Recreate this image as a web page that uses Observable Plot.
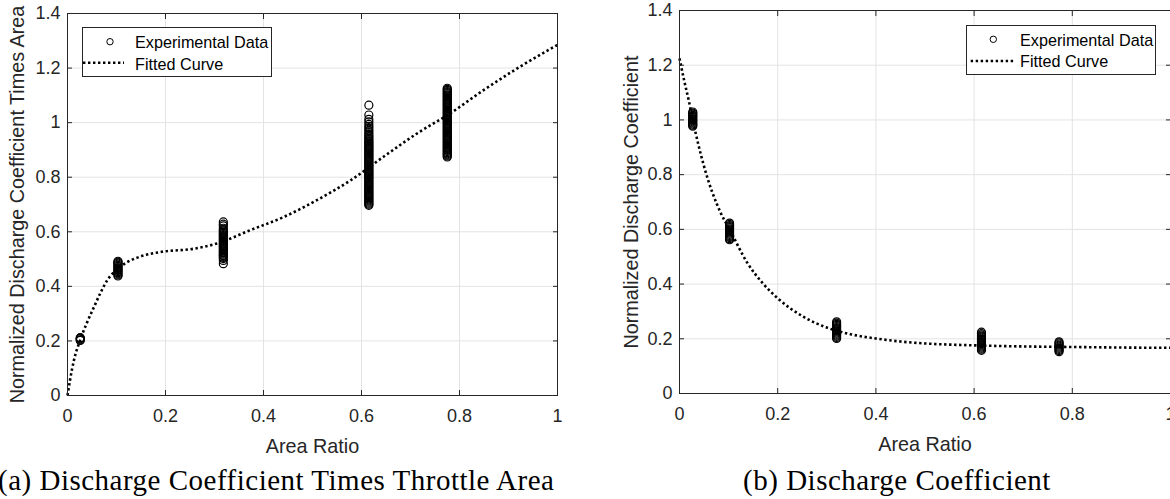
<!DOCTYPE html>
<html>
<head>
<meta charset="utf-8">
<script src="https://cdn.jsdelivr.net/npm/d3@7"></script>
<script src="https://cdn.jsdelivr.net/npm/@observablehq/plot@0.6"></script>
<style>
  html, body { margin: 0; padding: 0; background: #fff; width: 1170px; height: 499px; overflow: hidden; }
  #wrap { position: relative; width: 1170px; height: 499px; }
  #wrap > * { position: absolute; top: 0; }
</style>
</head>
<body>
<div id="wrap"></div>
<script>
// ---------- data ----------
const xTicks = [0, 0.2, 0.4, 0.6, 0.8, 1];
const xTickLabels = ["0", "0.2", "0.4", "0.6", "0.8", "1"];
const yTicks = [0, 0.2, 0.4, 0.6, 0.8, 1, 1.2, 1.4];
const yTickLabels = ["0", "0.2", "0.4", "0.6", "0.8", "1", "1.2", "1.4"];

// (a) experimental data: area ratio of each test group and its normalized Cd*A readings
const expXA = [0.026, 0.103, 0.318, 0.615, 0.775];
const expYA = [
  [0.202, 0.204, 0.208, 0.210, 0.212],
  [0.438, 0.442, 0.446, 0.450, 0.454, 0.458, 0.461, 0.465, 0.469, 0.473, 0.477, 0.481, 0.485, 0.489, 0.492],
  [0.483, 0.495, 0.502, 0.506, 0.510, 0.514, 0.518, 0.522, 0.526, 0.530, 0.534, 0.538, 0.542, 0.546, 0.550, 0.554, 0.558, 0.562, 0.566, 0.570, 0.574, 0.578, 0.582, 0.586, 0.590, 0.594, 0.598, 0.603, 0.607, 0.613, 0.622, 0.628, 0.636],
  [0.697, 0.701, 0.705, 0.709, 0.713, 0.717, 0.721, 0.725, 0.729, 0.733, 0.737, 0.741, 0.745, 0.749, 0.753, 0.757, 0.761, 0.765, 0.769, 0.773, 0.777, 0.781, 0.785, 0.789, 0.793, 0.797, 0.801, 0.805, 0.809, 0.813, 0.817, 0.821, 0.825, 0.829, 0.833, 0.837, 0.841, 0.845, 0.849, 0.853, 0.857, 0.861, 0.865, 0.869, 0.873, 0.877, 0.881, 0.885, 0.889, 0.893, 0.897, 0.901, 0.905, 0.909, 0.913, 0.917, 0.921, 0.925, 0.929, 0.933, 0.938, 0.943, 0.948, 0.953, 0.959, 0.966, 0.972, 0.979, 0.986, 0.994, 1.003, 1.012, 1.028, 1.064],
  [0.874, 0.878, 0.882, 0.886, 0.890, 0.894, 0.898, 0.902, 0.906, 0.910, 0.914, 0.918, 0.922, 0.926, 0.930, 0.934, 0.938, 0.942, 0.946, 0.950, 0.954, 0.958, 0.962, 0.966, 0.970, 0.974, 0.978, 0.982, 0.986, 0.990, 0.994, 0.998, 1.002, 1.006, 1.010, 1.014, 1.018, 1.022, 1.026, 1.030, 1.034, 1.038, 1.042, 1.046, 1.050, 1.054, 1.058, 1.062, 1.066, 1.070, 1.074, 1.078, 1.082, 1.086, 1.090, 1.094, 1.098, 1.102, 1.106, 1.110, 1.114, 1.118, 1.122, 1.126]
];
// (a) fitted curve
const fitXA = [0, 0.005, 0.013, 0.026, 0.04, 0.054, 0.067, 0.081, 0.103, 0.122, 0.15, 0.19, 0.258, 0.305, 0.373, 0.441, 0.509, 0.578, 0.645, 0.713, 0.781, 0.849, 0.918, 1.0];
const fitYA = [0, 0.055, 0.128, 0.204, 0.268, 0.324, 0.375, 0.422, 0.465, 0.489, 0.51, 0.526, 0.538, 0.557, 0.606, 0.654, 0.716, 0.789, 0.875, 0.96, 1.034, 1.119, 1.199, 1.285];

// (b) experimental data: normalized Cd
const expXB = [0.027, 0.102, 0.320, 0.615, 0.773];
const expYB = [
  [0.977, 0.981, 0.985, 0.989, 0.993, 0.997, 1.001, 1.005, 1.009, 1.013, 1.017, 1.021, 1.025, 1.029],
  [0.562, 0.566, 0.570, 0.574, 0.578, 0.582, 0.586, 0.590, 0.594, 0.598, 0.602, 0.606, 0.610, 0.614, 0.618, 0.623],
  [0.201, 0.205, 0.209, 0.213, 0.217, 0.221, 0.225, 0.229, 0.233, 0.237, 0.241, 0.245, 0.249, 0.253, 0.257, 0.262],
  [0.158, 0.162, 0.166, 0.170, 0.174, 0.178, 0.182, 0.186, 0.190, 0.194, 0.198, 0.202, 0.206, 0.210, 0.214, 0.219, 0.224],
  [0.153, 0.157, 0.161, 0.165, 0.169, 0.173, 0.177, 0.181, 0.185, 0.189]
];
// (b) fitted curve
const fitXB = [0, 0.01, 0.019, 0.027, 0.05, 0.084, 0.102, 0.138, 0.17, 0.2, 0.253, 0.3, 0.35, 0.4, 0.45, 0.5, 0.6, 0.7, 0.8, 0.9, 1.0];
const fitYB = [1.225, 1.14, 1.07, 1.0, 0.83, 0.66, 0.6, 0.478, 0.402, 0.348, 0.28, 0.241, 0.216, 0.201, 0.19, 0.183, 0.176, 0.172, 0.17, 0.168, 0.167];

const xLabel = "Area Ratio";
const yLabelA = "Normalized Discharge Coefficient Times Area";
const yLabelB = "Normalized Discharge Coefficient";
const legendLabels = ["Experimental Data", "Fitted Curve"];
const captionA = "(a) Discharge Coefficient Times Throttle Area";
const captionB = "(b) Discharge Coefficient";

// ---------- build ----------
const toPoints = (xs, ys) => xs.flatMap((x, i) => ys[i].map(y => ({x, y})));
const toLine = (xs, ys) => xs.map((x, i) => ({x, y: ys[i]}));

const AX = "#262626";
const GRID = "#e3e3e3";
const DASH = "2.4 2.6";
const fmtX = d => xTickLabels[xTicks.indexOf(d)];
const fmtY = d => yTickLabels[yTicks.indexOf(d)];

function chart({points, fit, yLabel, width, height, mL, mR, mT, mB, yLabelOffset, xLabelOffset}) {
  return Plot.plot({
    width, height,
    marginLeft: mL, marginRight: mR, marginTop: mT, marginBottom: mB,
    x: {domain: [0, 1]},
    y: {domain: [0, 1.4]},
    style: {fontFamily: "'Liberation Sans', Arial, sans-serif", fontSize: "18px", color: AX, background: "transparent", overflow: "visible"},
    marks: [
      Plot.gridX({ticks: xTicks, stroke: GRID, strokeOpacity: 1, strokeWidth: 1}),
      Plot.gridY({ticks: yTicks, stroke: GRID, strokeOpacity: 1, strokeWidth: 1}),
      Plot.line(fit, {x: "x", y: "y", stroke: "black", strokeWidth: 2.6, strokeDasharray: DASH, strokeLinecap: "butt", curve: "monotone-x"}),
      Plot.dot(points, {x: "x", y: "y", r: 4, stroke: "black", strokeWidth: 1.2, fill: "none"}),
      Plot.frame({stroke: AX, strokeWidth: 1}),
      // inward ticks on all four sides
      Plot.axisX({ticks: xTicks, anchor: "bottom", tickSize: 5, dy: -5, fill: "none", stroke: AX}),
      Plot.axisX({ticks: xTicks, anchor: "top", tickSize: 5, dy: 5, fill: "none", stroke: AX}),
      Plot.axisY({ticks: yTicks, anchor: "left", tickSize: 5, dx: 5, fill: "none", stroke: AX}),
      Plot.axisY({ticks: yTicks, anchor: "right", tickSize: 5, dx: -5, fill: "none", stroke: AX}),
      // tick labels
      Plot.axisX({ticks: xTicks, anchor: "bottom", tickSize: 0, tickPadding: 14, tickFormat: fmtX, label: null}),
      Plot.axisY({ticks: yTicks, anchor: "left", tickSize: 0, tickPadding: 7, tickFormat: fmtY, label: null}),
      // axis titles
      Plot.axisX({ticks: [], anchor: "bottom", tickSize: 0, label: xLabel, labelAnchor: "center", labelOffset: xLabelOffset, labelArrow: "none", fontSize: 19.8}),
      Plot.axisY({ticks: [], anchor: "left", tickSize: 0, label: yLabel, labelAnchor: "center", labelOffset: yLabelOffset, labelArrow: "none", fontSize: 19.8})
    ]
  });
}

const wrap = document.getElementById("wrap");

const plotA = chart({
  points: toPoints(expXA, expYA), fit: toLine(fitXA, fitYA), yLabel: yLabelA,
  width: 580, height: 460, mL: 67, mR: 23, mT: 13, mB: 65, yLabelOffset: 58, xLabelOffset: 57
});
plotA.style.left = "0px";
wrap.appendChild(plotA);

const plotB = chart({
  points: toPoints(expXB, expYB), fit: toLine(fitXB, fitYB), yLabel: yLabelB,
  width: 600, height: 460, mL: 79, mR: 30, mT: 10, mB: 67, yLabelOffset: 56, xLabelOffset: 57
});
plotB.style.left = "600px";
wrap.appendChild(plotB);

// ---------- legends and captions (overlay) ----------
const NS = "http://www.w3.org/2000/svg";
const overlay = document.createElementNS(NS, "svg");
overlay.setAttribute("width", 1170);
overlay.setAttribute("height", 499);
overlay.style.left = "0px";
wrap.appendChild(overlay);

function el(tag, attrs, text) {
  const e = document.createElementNS(NS, tag);
  for (const k in attrs) e.setAttribute(k, attrs[k]);
  if (text != null) e.textContent = text;
  overlay.appendChild(e);
  return e;
}

function legend({x, y, w, h, cx, cy, tx, ty1, ty2, lx1, lx2, ly}) {
  el("rect", {x: x + 0.5, y: y + 0.5, width: w, height: h, fill: "#fff", stroke: AX, "stroke-width": 1});
  el("circle", {cx, cy, r: 3.2, fill: "none", stroke: "black", "stroke-width": 1});
  el("line", {x1: lx1, x2: lx2, y1: ly, y2: ly, stroke: "black", "stroke-width": 2.6, "stroke-dasharray": DASH});
  const f = {"font-family": "'Liberation Sans', Arial, sans-serif", "font-size": 16.2, fill: "#000"};
  el("text", {x: tx, y: ty1, ...f}, legendLabels[0]);
  el("text", {x: tx, y: ty2, ...f}, legendLabels[1]);
}
legend({x: 82, y: 27, w: 189, h: 49, cx: 110, cy: 41.7, tx: 135, ty1: 47.5, ty2: 69.5, lx1: 83, lx2: 124, ly: 62.7});
legend({x: 966, y: 25, w: 189, h: 49, cx: 993.3, cy: 39.3, tx: 1020, ty1: 45.7, ty2: 66.7, lx1: 970.7, lx2: 1015, ly: 61});

const capStyle = {"font-family": "'Liberation Serif', 'Times New Roman', serif", "font-size": 29, "letter-spacing": 0.5, fill: "#000"};
el("text", {x: -2, y: 490, ...capStyle}, captionA);
el("text", {x: 897, y: 490, "text-anchor": "middle", ...capStyle}, captionB);
</script>
</body>
</html>
